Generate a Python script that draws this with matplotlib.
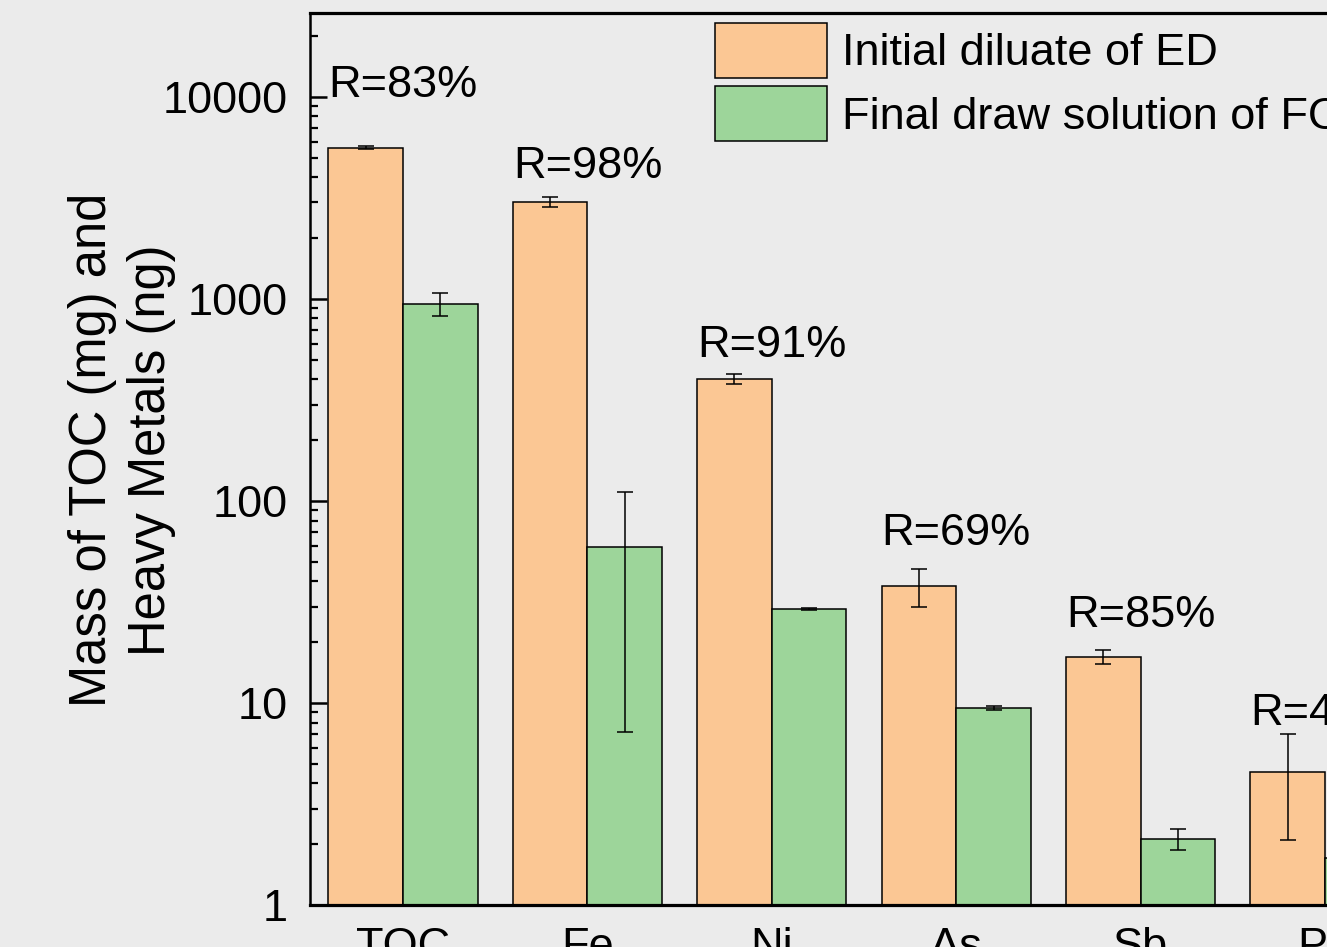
import numpy as np
import matplotlib
matplotlib.use("Agg")
from matplotlib import pyplot as plt
from matplotlib.ticker import LogLocator, FixedLocator, NullFormatter

plt.rcParams['font.family'] = ['Liberation Sans', 'DejaVu Sans']

categories = ["TOC", "Fe", "Ni", "As", "Sb", "Pb"]
initial = [5600, 3020, 402, 38.0, 16.9, 4.55]
initial_err = [100, 170, 22, 8.2, 1.3, 2.45]
final = [945, 59.2, 29.2, 9.45, 2.12, 1.71]
final_err = [125, 52, 0.4, 0.25, 0.25, 0.2]
removal = ["R=83%", "R=98%", "R=91%", "R=69%", "R=85%", "R=45%"]
label_y = [10000, 3970, 516, 60.6, 23.8, 7.8]

bg = '#EBEBEB'
orange = '#FBC794'
green = '#9DD59A'
fs = 32.5

W, H = 1327, 947
fig = plt.figure(figsize=(W / 100, H / 100), dpi=100, facecolor=bg)
ax = fig.add_axes([310 / W, 1 - 905 / H, (1418 - 310) / W, (905 - 13) / H])
ax.set_facecolor(bg)

x = np.arange(len(categories))
w = 0.405
ekw = dict(ecolor='black', elinewidth=1.1, capsize=6, capthick=1.1)
ax.bar(x - w / 2, initial, w, yerr=initial_err, color=orange,
       edgecolor='black', linewidth=1.1, error_kw=ekw,
       label="Initial diluate of ED")
ax.bar(x + w / 2, final, w, yerr=final_err, color=green,
       edgecolor='black', linewidth=1.1, error_kw=ekw,
       label="Final draw solution of FO")

for i, t in enumerate(removal):
    ax.text(x[i], label_y[i], t, ha='center', va='baseline', fontsize=fs)

ax.set_yscale('log')
ax.set_ylim(1, 26000)
ax.set_xlim(-0.505, 5.505)
ax.yaxis.set_major_locator(FixedLocator([1, 10, 100, 1000, 10000]))
ax.set_yticklabels(["1", "10", "100", "1000", "10000"])
ax.yaxis.set_minor_locator(LogLocator(base=10, subs=np.arange(2, 10)))
ax.yaxis.set_minor_formatter(NullFormatter())
ax.tick_params(axis='y', which='major', direction='in', length=12,
               width=1.8, labelsize=fs, pad=16)
ax.tick_params(axis='y', which='minor', direction='in', length=6, width=1.6)
ax.set_xticks(x)
ax.set_xticklabels(categories)
ax.tick_params(axis='x', length=0, labelsize=fs, pad=16)

ax.spines['left'].set_linewidth(1.8)
for s in ['bottom', 'top']:
    ax.spines[s].set_linewidth(2.3)

fig.text(122 / W, 1 - 450 / H, "Mass of TOC (mg) and\nHeavy Metals (ng)",
         rotation=90, ha='center', va='center', fontsize=36.5,
         multialignment='center', linespacing=1.25)

fig.legend(loc='upper left', bbox_to_anchor=(715 / W, 1 - 23 / H),
           frameon=False, fontsize=fs, borderpad=0, borderaxespad=0,
           handlelength=2.48, handleheight=1.5, labelspacing=0.18,
           handletextpad=0.33)

fig.savefig("out.png", dpi=100, facecolor=bg)
